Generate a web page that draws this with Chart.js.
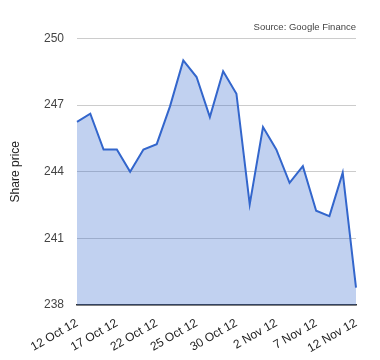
<!DOCTYPE html>
<html>
<head>
<meta charset="utf-8">
<script src="https://cdn.jsdelivr.net/npm/chart.js@4/dist/chart.umd.min.js"></script>
<style>
html,body{margin:0;padding:0;background:#fff;}
#wrap{width:380px;height:360px;}
</style>
</head>
<body>
<div id="wrap"><canvas id="chart" width="380" height="360"></canvas></div>
<script>
// trading days, a label is shown on every 3rd one
const dates=["12 Oct 12","15 Oct 12","16 Oct 12","17 Oct 12","18 Oct 12","19 Oct 12",
"22 Oct 12","23 Oct 12","24 Oct 12","25 Oct 12","26 Oct 12","29 Oct 12","30 Oct 12",
"31 Oct 12","1 Nov 12","2 Nov 12","5 Nov 12","6 Nov 12","7 Nov 12","8 Nov 12","9 Nov 12","12 Nov 12"];

const prices=[246.24,246.61,245.0,245.0,244.0,245.0,245.24,246.94,249.01,248.26,246.46,
248.52,247.51,242.53,246.01,245.0,243.5,244.25,242.24,242.0,243.96,238.78];

const yTicks=[238,241,244,247,250];

const font="Arial, 'Liberation Sans', sans-serif";

new Chart(document.getElementById("chart"),{
type:"line",
data:{
labels:dates,
datasets:[{
data:prices,
borderColor:"#3366cc",
borderWidth:2,
backgroundColor:"rgba(51,102,204,0.3)",
fill:"start",
pointRadius:0,
tension:0
}]
},
options:{
responsive:false,
animation:false,
layout:{padding:{right:24}},
plugins:{
legend:{display:false},
tooltip:{enabled:false},
title:{
display:true,
text:"Source: Google Finance",
align:"end",
color:"#444",
font:{family:font,size:9.5,weight:"normal"},
padding:{top:22,bottom:5}
}
},
scales:{
x:{
grid:{display:false},
border:{display:true,color:"#333",width:1.5},
ticks:{
autoSkip:false,
minRotation:30,
maxRotation:30,
color:"#222",
font:{family:font,size:12},
callback:function(v,i){return i%3===0?dates[i]:null;}
},
afterFit:function(s){s.height=55;}
},
y:{
min:yTicks[0],
max:yTicks[yTicks.length-1],
afterBuildTicks:function(s){s.ticks=yTicks.map(v=>({value:v}));},
grid:{color:"#ccc",drawTicks:false},
border:{display:false},
ticks:{color:"#444",padding:13,font:{family:font,size:12}},
title:{display:true,text:"Share price",color:"#222",font:{family:font,size:12},padding:{top:8}},
afterFit:function(s){s.width=77;}
}
}
}
});
</script>
</body>
</html>
